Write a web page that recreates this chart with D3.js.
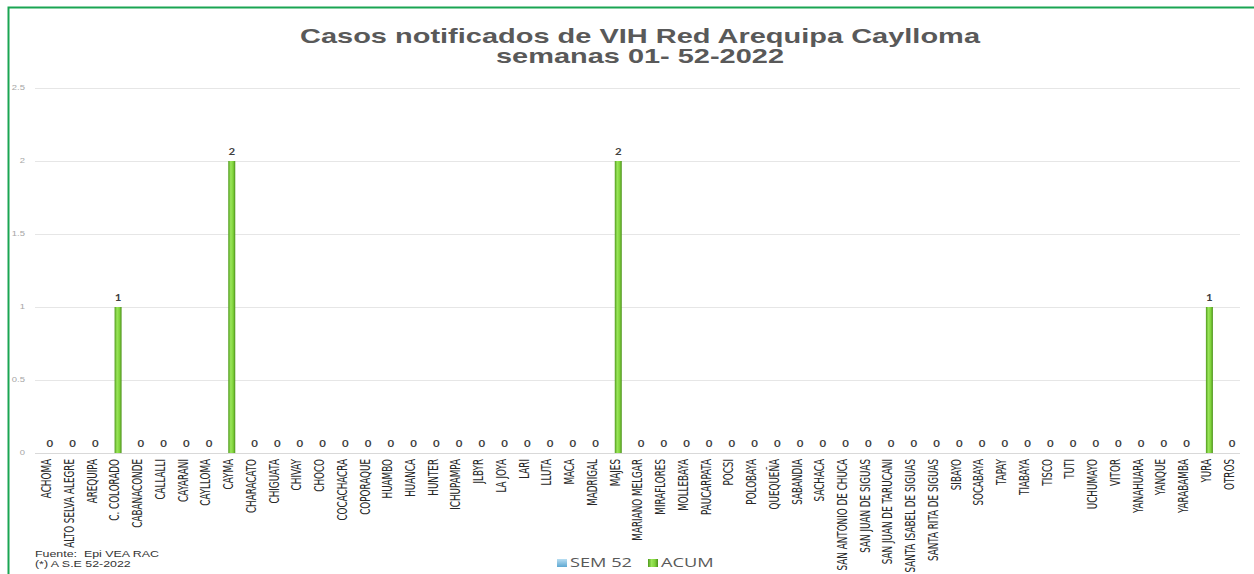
<!DOCTYPE html>
<html>
<head>
<meta charset="utf-8">
<script src="https://cdn.jsdelivr.net/npm/d3@7"></script>
<style>
  html, body { margin: 0; padding: 0; background: #fff; }
  svg { display: block; }
</style>
</head>
<body>
<div class="chart"></div>
<script>
(function(){

  var categories = ['ACHOMA', 'ALTO SELVA ALEGRE', 'AREQUIPA', 'C. COLORADO', 'CABANACONDE',
    'CALLALLI', 'CAYARANI', 'CAYLLOMA', 'CAYMA', 'CHARACATO', 'CHIGUATA', 'CHIVAY', 'CHOCO',
    'COCACHACRA', 'COPORAQUE', 'HUAMBO', 'HUANCA', 'HUNTER', 'ICHUPAMPA', 'JLBYR', 'LA JOYA',
    'LARI', 'LLUTA', 'MACA', 'MADRIGAL', 'MAJES', 'MARIANO MELGAR', 'MIRAFLORES', 'MOLLEBAYA',
    'PAUCARPATA', 'POCSI', 'POLOBAYA', 'QUEQUEÑA', 'SABANDIA', 'SACHACA', 'SAN ANTONIO DE CHUCA',
    'SAN JUAN DE SIGUAS', 'SAN JUAN DE TARUCANI', 'SANTA ISABEL DE SIGUAS', 'SANTA RITA DE SIGUAS',
    'SIBAYO', 'SOCABAYA', 'TAPAY', 'TIABAYA', 'TISCO', 'TUTI', 'UCHUMAYO', 'VITOR', 'YANAHUARA',
    'YANQUE', 'YARABAMBA', 'YURA', 'OTROS'];

  var sem52 = [0, 0, 0, 0, 0, 0, 0, 0, 0, 0, 0, 0, 0, 0, 0, 0, 0, 0, 0, 0, 0, 0, 0, 0, 0, 0,
    0, 0, 0, 0, 0, 0, 0, 0, 0, 0, 0, 0, 0, 0, 0, 0, 0, 0, 0, 0, 0, 0, 0, 0, 0, 0, 0];

  var acum = [0, 0, 0, 1, 0, 0, 0, 0, 2, 0, 0, 0, 0, 0, 0, 0, 0, 0, 0, 0, 0, 0, 0, 0, 0, 2,
    0, 0, 0, 0, 0, 0, 0, 0, 0, 0, 0, 0, 0, 0, 0, 0, 0, 0, 0, 0, 0, 0, 0, 0, 0, 1, 0];

  var yTicks = [0, 0.5, 1, 1.5, 2, 2.5];
  var titleLines = ['Casos notificados de VIH Red Arequipa Caylloma', 'semanas 01- 52-2022'];
  var seriesNames = ['SEM 52', 'ACUM'];
  var notes = ['Fuente:  Epi VEA RAC', '(*) A S.E 52-2022'];

  var width = 1254, height = 574;
  // the original picture is stretched sideways, so everything is drawn in a squeezed frame
  var SX = 1.35;

  var svg = d3.select('.chart').append('svg')
    .attr('width', width)
    .attr('height', height);

  var defs = svg.append('defs');
  var gGreen = defs.append('linearGradient').attr('id', 'gGreen')
    .attr('x1', 0).attr('x2', 1).attr('y1', 0).attr('y2', 0);
  gGreen.append('stop').attr('offset', 0).attr('stop-color', '#4f9a1c');
  gGreen.append('stop').attr('offset', 0.35).attr('stop-color', '#9ae65a');
  gGreen.append('stop').attr('offset', 0.7).attr('stop-color', '#7fd23a');
  gGreen.append('stop').attr('offset', 1).attr('stop-color', '#4a8f1a');

  var gBlue = defs.append('linearGradient').attr('id', 'gBlue')
    .attr('x1', 0).attr('x2', 0).attr('y1', 0).attr('y2', 1);
  gBlue.append('stop').attr('offset', 0).attr('stop-color', '#b9def2');
  gBlue.append('stop').attr('offset', 1).attr('stop-color', '#5ea8d2');

  // green frame (left and top only are visible)
  svg.append('path')
    .attr('d', 'M8.5,' + height + 'V7.5H' + width)
    .attr('fill', 'none')
    .attr('stroke', '#1aa553')
    .attr('stroke-width', 2);

  var g = svg.append('g').attr('transform', 'scale(' + SX + ',1)');

  var x = d3.scaleBand()
    .domain(categories)
    .range([35 / SX, 1240 / SX]);

  var y = d3.scaleLinear()
    .domain([0, 2.5])
    .range([453, 88]);

  var barW = 7 / SX;

  // gridlines
  g.append('g').selectAll('line')
    .data(yTicks)
    .enter().append('line')
    .attr('x1', x.range()[0])
    .attr('x2', x.range()[1])
    .attr('y1', function(d){ return Math.round(y(d)) + 0.5; })
    .attr('y2', function(d){ return Math.round(y(d)) + 0.5; })
    .attr('stroke', function(d){ return d === 0 ? '#d9d9d9' : '#e6e6e6'; })
    .attr('stroke-width', 1);

  // y axis labels
  g.append('g').selectAll('text')
    .data(yTicks)
    .enter().append('text')
    .attr('x', 25 / SX)
    .attr('y', function(d){ return y(d); })
    .attr('dy', '0.35em')
    .attr('text-anchor', 'end')
    .attr('font-family', 'Liberation Sans, Arial, sans-serif')
    .attr('font-size', 7)
    .attr('fill', '#a6a6a6')
    .text(function(d){ return d; });

  var cx = function(d, i){ return x(categories[i]) + x.bandwidth() / 2; };

  // SEM 52 bars (all zero)
  g.append('g').selectAll('rect')
    .data(sem52)
    .enter().append('rect')
    .attr('x', function(d, i){ return cx(d, i) - barW; })
    .attr('y', function(d){ return y(d); })
    .attr('width', barW)
    .attr('height', function(d){ return y(0) - y(d); })
    .attr('fill', 'url(#gBlue)');

  // ACUM bars
  g.append('g').selectAll('rect')
    .data(acum)
    .enter().append('rect')
    .attr('x', function(d, i){ return cx(d, i); })
    .attr('y', function(d){ return y(d); })
    .attr('width', barW)
    .attr('height', function(d){ return y(0) - y(d); })
    .attr('fill', 'url(#gGreen)');

  // value labels
  g.append('g').selectAll('text')
    .data(acum)
    .enter().append('text')
    .attr('x', function(d, i){ return cx(d, i) + barW / 2; })
    .attr('y', function(d){ return y(d) - 6; })
    .attr('text-anchor', 'middle')
    .attr('font-family', 'Lato, Open Sans, sans-serif')
    .attr('font-weight', 'bold')
    .attr('font-size', 8.5)
    .attr('fill', '#404040')
    .text(function(d){ return d; });

  // category labels
  g.append('g').selectAll('text')
    .data(categories)
    .enter().append('text')
    .attr('transform', function(d){
      return 'translate(' + (x(d) + x.bandwidth() / 2) + ',459) rotate(-90) scale(0.95,1)';
    })
    .attr('dy', '0.35em')
    .attr('text-anchor', 'end')
    .attr('font-family', 'Liberation Sans Narrow, DejaVu Sans Condensed, sans-serif')
    .attr('font-size', 10.3)
    .attr('fill', '#262626')
    .text(function(d){ return d; });

  // title
  var titleLen = [680, 288];
  g.append('g').selectAll('text')
    .data(titleLines)
    .enter().append('text')
    .attr('x', 640 / SX)
    .attr('y', function(d, i){ return 43 + i * 20; })
    .attr('text-anchor', 'middle')
    .attr('textLength', function(d, i){ return titleLen[i] / SX; })
    .attr('lengthAdjust', 'spacingAndGlyphs')
    .attr('font-family', 'Liberation Sans, Arial, sans-serif')
    .attr('font-weight', 'bold')
    .attr('font-size', 19.5)
    .attr('fill', '#595959')
    .text(function(d){ return d; });

  // legend
  var legendX = [557, 648];
  var legendFill = ['url(#gBlue)', 'url(#gGreen)'];
  var legend = g.append('g').selectAll('g')
    .data(seriesNames)
    .enter().append('g')
    .attr('transform', function(d, i){ return 'translate(' + legendX[i] / SX + ',0)'; });
  legend.append('rect')
    .attr('y', 559)
    .attr('width', 10 / SX)
    .attr('height', 8)
    .attr('fill', function(d, i){ return legendFill[i]; });
  legend.append('text')
    .attr('x', 13 / SX)
    .attr('y', 567)
    .attr('font-family', 'Open Sans, sans-serif')
    .attr('font-size', 13.5)
    .attr('fill', '#595959')
    .text(function(d){ return d; });

  // source notes
  g.append('g').selectAll('text')
    .data(notes)
    .enter().append('text')
    .attr('x', 35 / SX)
    .attr('y', function(d, i){ return 557 + i * 10; })
    .attr('font-family', 'Liberation Sans, Arial, sans-serif')
    .attr('font-size', 9.2)
    .attr('fill', '#333')
    .style('white-space', 'pre')
    .text(function(d){ return d; });

}());
</script>
</body>
</html>
